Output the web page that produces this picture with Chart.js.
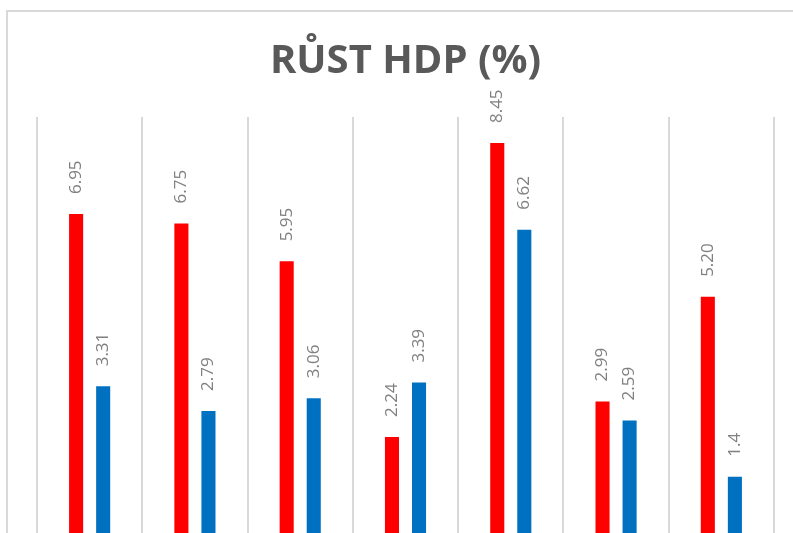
<!DOCTYPE html>
<html>
<head>
<meta charset="utf-8">
<script src="https://cdn.jsdelivr.net/npm/chart.js@4/dist/chart.umd.min.js"></script>
<style>
    html, body { margin: 0; padding: 0; background: #fff; overflow: hidden; }
    #wrap { position: relative; width: 793px; height: 533px; overflow: hidden; }
    #frame { position: absolute; left: 6px; top: 10px; width: 900px; height: 700px;
             border-left: 2px solid #d9d9d9; border-top: 2px solid #d9d9d9; }
    #holder { position: absolute; left: 0; top: 0; width: 793px; height: 560px; }
</style>
</head>
<body>
<div id="wrap">
    <div id="frame"></div>
    <div id="holder"><canvas id="gdpChart"></canvas></div>
</div>
<script>
// data
const categories = ['1', '2', '3', '4', '5', '6', '7'];
const redValues = [6.95, 6.75, 5.95, 2.24, 8.45, 2.99, 5.20];
const blueValues = [3.31, 2.79, 3.06, 3.39, 6.62, 2.59, 1.4];
const redLabels = ['6.95', '6.75', '5.95', '2.24', '8.45', '2.99', '5.20'];
const blueLabels = ['3.31', '2.79', '3.06', '3.39', '6.62', '2.59', '1.4'];

// popisky nad sloupci (otocene o 90 stupnu)
const valueLabels = {
    id: 'valueLabels',
    afterDatasetsDraw(chart) {
        const ctx = chart.ctx;
        chart.data.datasets.forEach((ds, i) => {
            const meta = chart.getDatasetMeta(i);
            meta.data.forEach((bar, j) => {
                ctx.save();
                ctx.translate(bar.x, bar.y - 20);
                ctx.rotate(-Math.PI / 2);
                ctx.font = '17px "Open Sans"';
                ctx.fillStyle = '#808080';
                ctx.textAlign = 'left';
                ctx.textBaseline = 'middle';
                ctx.fillText(ds.valueLabels[j], 0, 0);
                ctx.restore();
            });
        });
    }
};

new Chart(document.getElementById('gdpChart').getContext('2d'), {
    type: 'bar',
    data: {
        labels: categories,
        datasets: [{
            label: 'A',
            data: redValues,
            valueLabels: redLabels,
            backgroundColor: '#ff0000'
        }, {
            label: 'B',
            data: blueValues,
            valueLabels: blueLabels,
            backgroundColor: '#0070c0'
        }]
    },
    options: {
        responsive: true,
        maintainAspectRatio: false,
        animation: false,
        datasets: {
            bar: { categoryPercentage: 0.514, barPercentage: 0.52 }
        },
        layout: { padding: { left: 37, right: 19, top: 0, bottom: 17 } },
        plugins: {
            legend: { display: false },
            tooltip: { enabled: false },
            title: {
                display: true,
                text: 'RŮST HDP (%)',
                color: '#595959',
                font: { family: '"Open Sans"', size: 40, weight: 'bold' },
                padding: { top: 38, bottom: 31 }
            }
        },
        scales: {
            x: {
                grid: { color: '#d9d9d9', lineWidth: 2, drawTicks: false },
                ticks: { display: false },
                border: { display: false }
            },
            y: { display: false, min: 0, max: 9 }
        }
    },
    plugins: [valueLabels]
});
</script>
</body>
</html>
